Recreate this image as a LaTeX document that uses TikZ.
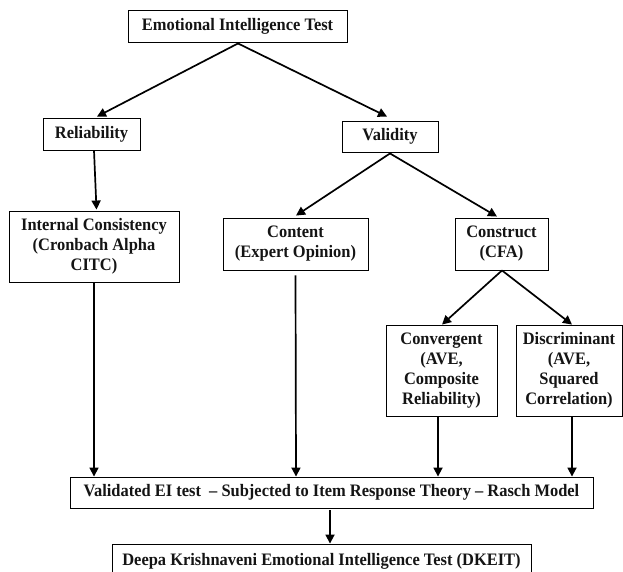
\documentclass[tikz,border=0pt]{standalone}
\usepackage{fontspec}
\setmainfont[FakeStretch=0.94]{Liberation Serif}
\usetikzlibrary{arrows.meta}
\begin{document}
\begin{tikzpicture}[x=1pt,y=-1pt,
 box/.style={draw,line width=0.9pt,inner sep=0pt,align=center,text=black!92,
   font=\bfseries\fontsize{17.5}{20}\selectfont},
 arr/.style={line width=1.7pt,-{Triangle[length=9pt,width=9pt]}}]
\clip (0,0) rectangle (623,571);
\node[box,minimum width=219pt,minimum height=32pt] (top) at (237.5,26) {Emotional Intelligence Test};
\node[box,minimum width=97pt,minimum height=32pt] (rel) at (91.5,134) {Reliability};
\node[box,minimum width=96pt,minimum height=31pt] (val) at (390,136.5) {Validity};
\node[box,minimum width=170pt,minimum height=71pt] (ic) at (94,246.5) {Internal Consistency\\(Cronbach Alpha\\CITC)};
\node[box,minimum width=145pt,minimum height=52pt] (content) at (295.5,244) {Content\\(Expert Opinion)};
\node[box,minimum width=93pt,minimum height=52pt] (construct) at (501.5,244) {Construct\\(CFA)};
\node[box,minimum width=111pt,minimum height=91pt] (conv) at (441.5,370.5) {Convergent\\(AVE,\\Composite\\Reliability)};
\node[box,minimum width=106pt,minimum height=91pt] (disc) at (569,370.5) {Discriminant\\(AVE,\\Squared\\Correlation)};
\node[box,minimum width=523pt,minimum height=31pt] (validated) at (331.5,492.5) {Validated EI test\ \ – Subjected to Item Response Theory – Rasch Model};
\node[box,minimum width=419pt,minimum height=34pt] (final) at (321.5,561) {Deepa Krishnaveni Emotional Intelligence Test (DKEIT)};

\draw[arr] ([xshift=0.5pt,yshift=-1pt]top.south) -- ([xshift=5.5pt,yshift=1pt]rel.north);
\draw[arr] ([xshift=0.5pt,yshift=-1pt]top.south) -- ([xshift=-3pt,yshift=4pt]val.north);
\draw[arr] ([xshift=2.5pt]rel.south) -- ([xshift=2.5pt,yshift=1pt]ic.north);
\draw[arr] ([yshift=-1pt]val.south) -- ([xshift=0.5pt,yshift=2pt]content.north);
\draw[arr] ([yshift=-1pt]val.south) -- ([xshift=-4.5pt,yshift=1pt]construct.north);
\draw[arr] ([xshift=0.5pt]construct.south) -- ([xshift=0.5pt]conv.north);
\draw[arr] ([xshift=0.5pt]construct.south) -- ([xshift=3pt]disc.north);
\draw[arr] (ic.south) -- (ic.south |- validated.north);
\draw[arr] ([yshift=-5pt]content.south) -- ([xshift=0.5pt]content.south |- validated.north);
\draw[arr] ([xshift=-3.5pt]conv.south) -- ([xshift=-3.5pt]conv.south |- validated.north);
\draw[arr] ([xshift=3pt]disc.south) -- ([xshift=3pt]disc.south |- validated.north);
\draw[arr] ([xshift=-1.5pt,yshift=-2pt]validated.south) -- ([xshift=8.5pt]final.north);
\end{tikzpicture}
\end{document}
